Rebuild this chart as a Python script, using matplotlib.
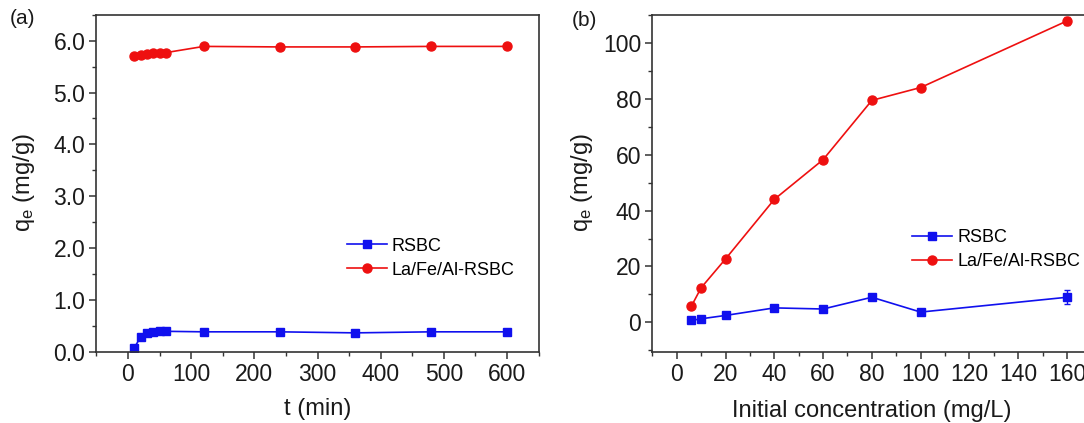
import numpy as np
import matplotlib
matplotlib.use('Agg')
import matplotlib.pyplot as plt
from matplotlib.ticker import MultipleLocator

plt.rcParams['font.family'] = ['Liberation Sans', 'DejaVu Sans']
plt.rcParams['mathtext.default'] = 'regular'

# (a) 接触时间
t_min = [10, 20, 30, 40, 50, 60, 120, 240, 360, 480, 600]
qe_rsbc_t = [0.07, 0.28, 0.35, 0.38, 0.39, 0.39, 0.38, 0.38, 0.36, 0.38, 0.38]
qe_lafeal_t = [5.70, 5.72, 5.74, 5.76, 5.77, 5.77, 5.89, 5.88, 5.88, 5.89, 5.89]

# (b) 初始浓度
c0 = [6, 10, 20, 40, 60, 80, 100, 160]
qe_rsbc_c = [0.7, 1.3, 2.5, 5.2, 4.8, 9.0, 3.7, 9.0]
err_rsbc_c = [0.3, 0.3, 0.3, 0.4, 0.3, 0.5, 0.4, 2.5]
qe_lafeal_c = [5.8, 12.4, 22.7, 44.0, 58.2, 79.4, 84.0, 107.8]
err_lafeal_c = [0.3, 0.4, 0.4, 0.5, 0.5, 0.6, 0.5, 1.5]

labels = ['RSBC', 'La/Fe/Al-RSBC']
blue = '#1010ee'
red = '#ee1010'
txt = '#1a1a1a'

fig = plt.figure(figsize=(10.84, 4.23), dpi=100)
ax1 = fig.add_axes([0.0889, 0.169, 0.408, 0.796])
ax2 = fig.add_axes([0.6018, 0.169, 0.405, 0.796])


def style(ax):
    for s in ax.spines.values():
        s.set_linewidth(1.2)
        s.set_color('#333333')
    ax.tick_params(which='major', direction='out', length=5, width=1.1,
                   labelsize=16.5, colors='#333333', labelcolor=txt, pad=3)
    ax.tick_params(which='minor', direction='out', length=3, width=1.0,
                   colors='#333333')


ax1.plot(t_min, qe_rsbc_t, '-s', color=blue, ms=6, lw=1.2, label=labels[0])
ax1.plot(t_min, qe_lafeal_t, '-o', color=red, ms=6.5, lw=1.2, label=labels[1])
ax1.set_xlim(-50, 650)
ax1.set_ylim(0, 6.5)
ax1.xaxis.set_major_locator(MultipleLocator(100))
ax1.xaxis.set_minor_locator(MultipleLocator(50))
ax1.yaxis.set_major_locator(MultipleLocator(1.0))
ax1.yaxis.set_minor_locator(MultipleLocator(0.5))
ax1.yaxis.set_major_formatter(matplotlib.ticker.FormatStrFormatter('%.1f'))
ax1.set_xlabel('t (min)', fontsize=17, color=txt, labelpad=9)
ax1.set_ylabel('q$_e$ (mg/g)', fontsize=17, color=txt, labelpad=12)
style(ax1)
ax1.legend(loc='upper left', bbox_to_anchor=(0.55, 0.36), frameon=False,
           fontsize=13, handlelength=2.2, handletextpad=0.3, labelspacing=0.4,
           borderaxespad=0)
fig.text(0.009, 0.957, '(a)', fontsize=15, color=txt, va='center')

ax2.errorbar(c0, qe_rsbc_c, yerr=err_rsbc_c, fmt='none', ecolor=blue,
             capsize=2, elinewidth=1.0)
ax2.errorbar(c0, qe_lafeal_c, yerr=err_lafeal_c, fmt='none', ecolor=red,
             capsize=2, elinewidth=1.0)
ax2.plot(c0, qe_rsbc_c, '-s', color=blue, ms=6, lw=1.2, label=labels[0])
ax2.plot(c0, qe_lafeal_c, '-o', color=red, ms=6.5, lw=1.2, label=labels[1])
ax2.set_xlim(-10, 170)
ax2.set_ylim(-10.4, 110)
ax2.xaxis.set_major_locator(MultipleLocator(20))
ax2.xaxis.set_minor_locator(MultipleLocator(10))
ax2.yaxis.set_major_locator(MultipleLocator(20))
ax2.yaxis.set_minor_locator(MultipleLocator(10))
ax2.set_xlabel('Initial concentration (mg/L)', fontsize=17, color=txt, labelpad=10)
ax2.set_ylabel('q$_e$ (mg/g)', fontsize=17, color=txt, labelpad=6)
style(ax2)
ax2.legend(loc='upper left', bbox_to_anchor=(0.575, 0.385), frameon=False,
           fontsize=13, handlelength=2.2, handletextpad=0.3, labelspacing=0.4,
           borderaxespad=0)
fig.text(0.527, 0.952, '(b)', fontsize=15, color=txt, va='center')

fig.savefig('out.png', dpi=100)
